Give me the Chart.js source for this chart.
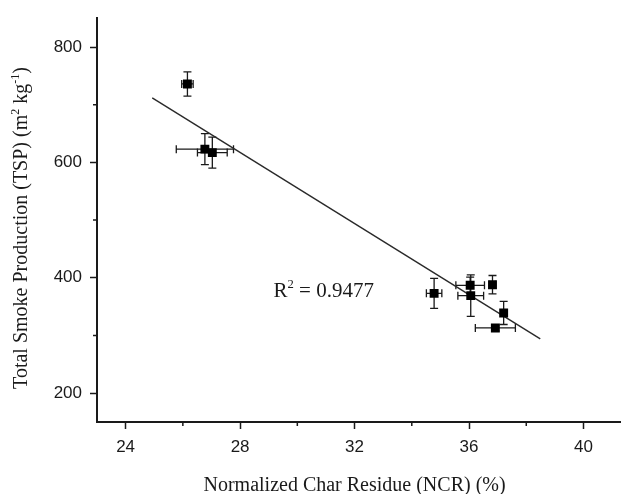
<!DOCTYPE html>
<html>
<head>
<meta charset="utf-8">
<script src="https://cdn.jsdelivr.net/npm/chart.js@4/dist/chart.umd.min.js"></script>
<style>
  html, body { margin: 0; padding: 0; background: #fff; }
  #chart { display: block; }
</style>
</head>
<body>
<canvas id="chart" width="627" height="494"></canvas>
<script>
// --- DATA ---
const ncr    = [26.16, 26.77, 27.03, 34.78, 36.04, 36.06, 36.82, 37.21, 36.92];
const tsp    = [736, 623, 617, 373, 387, 369, 388, 339, 313];
const ncrErr = [0.2, 1.0, 0.52, 0.27, 0.5, 0.45, 0.1, 0.1, 0.7];
const tspErr = [21, 27, 27, 26, 14, 36, 16, 20, 5];

// regression line end points
const fitX = [24.93, 38.49];
const fitY = [712, 294];

const xTicks = [24, 28, 32, 36, 40];
const xMinorTicks = [26, 30, 34, 38];
const yTicks = [200, 400, 600, 800];
const yMinorTicks = [300, 500, 700];

const r2Text = '0.9477';

// --- HELPERS ---
const ink = '#1a1a1a';
const serif = '"Liberation Serif", "Times New Roman", serif';

// draw text with small raised parts, e.g. m + sup 2
function drawRich(ctx, parts, x, y, size) {
    let cx = x;
    parts.forEach(p => {
        const fs = p.sup ? size * 0.6 : size;
        ctx.font = fs + 'px ' + serif;
        ctx.fillText(p.t, cx, p.sup ? y - size * 0.42 : y);
        cx += ctx.measureText(p.t).width;
    });
    return cx - x;
}
function richWidth(ctx, parts, size) {
    let w = 0;
    parts.forEach(p => {
        ctx.font = (p.sup ? size * 0.6 : size) + 'px ' + serif;
        w += ctx.measureText(p.t).width;
    });
    return w;
}

// error bars, minor ticks, titles and R² label
const extrasPlugin = {
    id: 'extras',
    beforeDatasetsDraw(chart) {
        const ctx = chart.ctx;
        const xs = chart.scales.x, ys = chart.scales.y;
        ctx.save();
        ctx.strokeStyle = ink;
        ctx.lineWidth = 1.3;
        const cap = 4;
        ncr.forEach((v, i) => {
            const px = xs.getPixelForValue(v);
            const py = ys.getPixelForValue(tsp[i]);
            const x1 = xs.getPixelForValue(v - ncrErr[i]);
            const x2 = xs.getPixelForValue(v + ncrErr[i]);
            const y1 = ys.getPixelForValue(tsp[i] + tspErr[i]);
            const y2 = ys.getPixelForValue(tsp[i] - tspErr[i]);
            ctx.beginPath();
            ctx.moveTo(x1, py); ctx.lineTo(x2, py);
            ctx.moveTo(x1, py - cap); ctx.lineTo(x1, py + cap);
            ctx.moveTo(x2, py - cap); ctx.lineTo(x2, py + cap);
            ctx.moveTo(px, y1); ctx.lineTo(px, y2);
            ctx.moveTo(px - cap, y1); ctx.lineTo(px + cap, y1);
            ctx.moveTo(px - cap, y2); ctx.lineTo(px + cap, y2);
            ctx.stroke();
        });
        ctx.restore();
    },
    afterDraw(chart) {
        const ctx = chart.ctx;
        const xs = chart.scales.x, ys = chart.scales.y;
        const area = chart.chartArea;
        ctx.save();
        // minor ticks
        ctx.strokeStyle = ink;
        ctx.lineWidth = 1.5;
        ctx.beginPath();
        xMinorTicks.forEach(v => {
            const px = xs.getPixelForValue(v);
            ctx.moveTo(px, area.bottom); ctx.lineTo(px, area.bottom + 4);
        });
        yMinorTicks.forEach(v => {
            const py = ys.getPixelForValue(v);
            ctx.moveTo(area.left, py); ctx.lineTo(area.left - 4, py);
        });
        ctx.stroke();

        ctx.fillStyle = ink;
        ctx.textBaseline = 'alphabetic';
        ctx.textAlign = 'left';

        // x title
        const xTitle = [{ t: 'Normalized Char Residue (NCR) (%)' }];
        const xw = richWidth(ctx, xTitle, 20);
        drawRich(ctx, xTitle, xs.getPixelForValue(32) - xw / 2, 491, 20);

        // y title (rotated)
        const yTitle = [
            { t: 'Total Smoke Production (TSP) (m' }, { t: '2', sup: true },
            { t: ' kg' }, { t: '-1', sup: true }, { t: ')' }
        ];
        const yw = richWidth(ctx, yTitle, 20);
        ctx.save();
        ctx.translate(27, 228);
        ctx.rotate(-Math.PI / 2);
        drawRich(ctx, yTitle, -yw / 2, 0, 20);
        ctx.restore();

        // R² label
        const r2 = [{ t: 'R' }, { t: '2', sup: true }, { t: ' = ' + r2Text }];
        drawRich(ctx, r2, xs.getPixelForValue(29.17), ys.getPixelForValue(367), 21);
        ctx.restore();
    }
};

// --- CHART ---
const tickFont = { family: '"Liberation Sans", Arial, sans-serif', size: 17 };

new Chart(document.getElementById('chart').getContext('2d'), {
    type: 'scatter',
    data: {
        datasets: [
            {
                label: 'TSP',
                data: ncr.map((v, i) => ({ x: v, y: tsp[i] })),
                pointStyle: 'rect',
                pointRadius: 6.3,
                pointBackgroundColor: '#000',
                pointBorderWidth: 0,
                order: 1
            },
            {
                label: 'Fit',
                type: 'line',
                data: fitX.map((v, i) => ({ x: v, y: fitY[i] })),
                borderColor: '#2a2a2a',
                borderWidth: 1.4,
                pointRadius: 0,
                fill: false,
                order: 2
            }
        ]
    },
    options: {
        responsive: false,
        devicePixelRatio: 1,
        animation: false,
        layout: { padding: { left: 0, right: 0, top: 12, bottom: 0 } },
        plugins: { legend: { display: false }, tooltip: { enabled: false } },
        scales: {
            x: {
                type: 'linear',
                min: 23, max: 41.3,
                afterBuildTicks: s => { s.ticks = xTicks.map(v => ({ value: v })); },
                afterFit: s => { s.height = 72; },
                grid: { drawOnChartArea: false, drawTicks: true, tickLength: 7, tickColor: ink, tickWidth: 1.5 },
                border: { display: true, color: ink, width: 2 },
                ticks: { color: ink, font: tickFont, padding: 8, maxRotation: 0 }
            },
            y: {
                type: 'linear',
                min: 150, max: 850,
                afterBuildTicks: s => { s.ticks = yTicks.map(v => ({ value: v })); },
                afterFit: s => { s.width = 97; },
                grid: { drawOnChartArea: false, drawTicks: true, tickLength: 7, tickColor: ink, tickWidth: 1.5 },
                border: { display: true, color: ink, width: 2 },
                ticks: { color: ink, font: tickFont, padding: 8 }
            }
        }
    },
    plugins: [extrasPlugin]
});
</script>
</body>
</html>
